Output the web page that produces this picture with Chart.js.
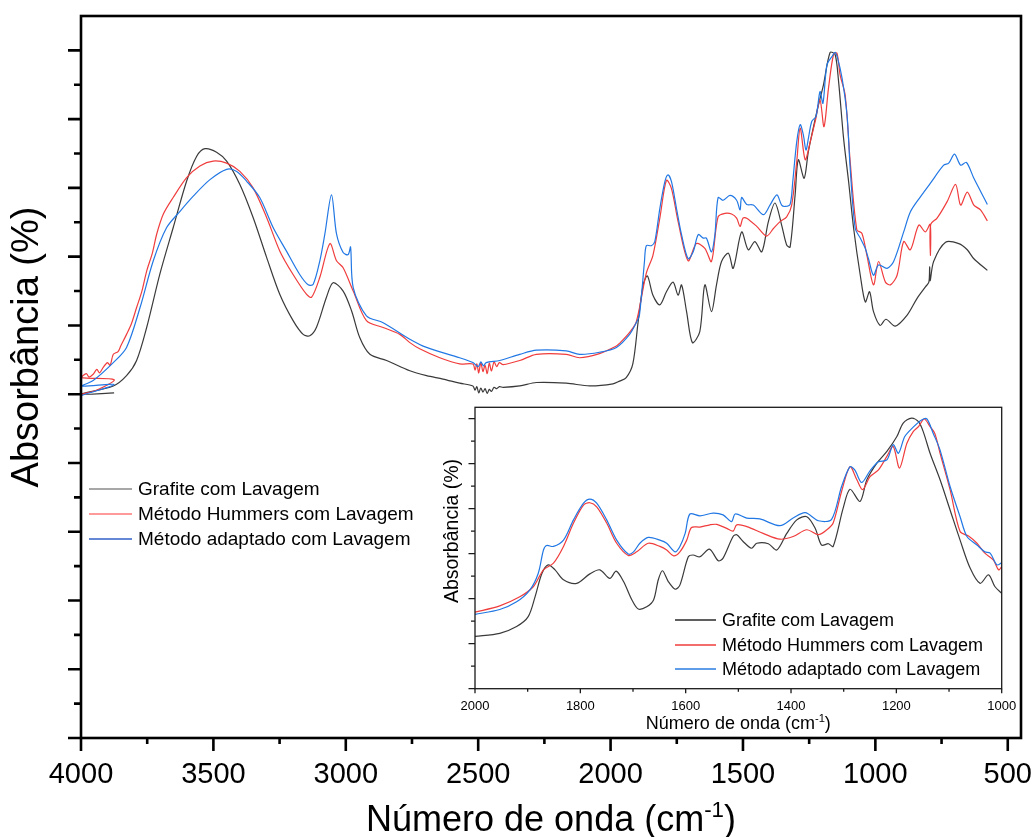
<!DOCTYPE html>
<html>
<head>
<meta charset="utf-8">
<title>FTIR – Absorbância</title>
<script src="https://cdn.jsdelivr.net/npm/chart.js@4.4.1/dist/chart.umd.min.js"></script>
<style>
  html, body { margin: 0; padding: 0; background: #fff; overflow: hidden; }
  #wrap { position: relative; width: 1035px; height: 837px; }
  canvas { position: absolute; }
</style>
</head>
<body>
<div id="wrap">
  <canvas id="main" width="1035" height="837" style="left:0;top:0"></canvas>
  <canvas id="inset" width="600" height="345" style="left:430px;top:395px"></canvas>
</div>
<script>
// ---------- series labels ----------
const seriesLabels = ['Grafite com Lavagem', 'Método Hummers com Lavagem', 'Método adaptado com Lavagem'];

// ---------- full spectra, [wavenumber (cm-1), absorbance] ----------
const grafite = [
  [3875,5.02],[4000,5.00],[3878,5.12],[3828,5.27],[3790,5.49],[3752,5.97],[3702,6.75],[3652,7.42],
  [3601,8.10],[3563,8.46],[3532,8.57],[3488,8.52],[3450,8.39],[3400,8.05],[3350,7.57],[3299,6.99],
  [3249,6.45],[3199,6.07],[3161,5.87],[3136,5.85],[3111,5.97],[3073,6.41],[3048,6.62],[3010,6.50],
  [2978,6.21],[2947,5.82],[2909,5.58],[2846,5.49],[2758,5.34],[2695,5.27],[2633,5.22],[2570,5.16],
  [2520,5.12],[2512,5.06],[2505,5.11],[2498,5.02],[2490,5.09],[2482,5.03],[2474,5.08],[2466,5.01],
  [2458,5.07],[2450,5.04],[2440,5.10],[2430,5.08],[2420,5.11],[2406,5.10],[2343,5.12],[2280,5.17],
  [2167,5.16],[2079,5.12],[1991,5.15],[1966,5.19],[1941,5.24],[1916,5.44],[1896,6.05],[1877,6.59],
  [1861,6.72],[1840,6.44],[1814,6.30],[1789,6.49],[1764,6.63],[1745,6.44],[1732,6.59],[1713,6.20],
  [1691,5.75],[1663,5.91],[1644,6.59],[1619,6.20],[1600,6.59],[1581,6.93],[1555,7.05],[1537,6.83],
  [1505,7.36],[1480,7.10],[1455,7.22],[1429,7.07],[1404,7.51],[1379,7.78],[1354,7.46],[1335,7.17],
  [1322,7.14],[1303,7.90],[1291,8.41],[1269,8.14],[1253,8.53],[1221,9.11],[1196,9.50],[1171,9.97],
  [1152,9.94],[1139,9.55],[1120,8.72],[1101,8.09],[1082,7.41],[1057,6.73],[1038,6.34],[1022,6.49],
  [1007,6.20],[982,6.00],[960,6.09],[925,5.99],[880,6.15],[843,6.39],[811,6.56],[798,6.63],
  [795,6.85],[793,6.65],[780,6.93],[735,7.21],[685,7.19],[653,7.10],[628,6.97],[577,6.80]
];
const hummers = [
  [4000,5.00],[3940,5.06],[3875,5.21],[4000,5.24],[3980,5.30],[3970,5.25],[3954,5.29],[3940,5.36],
  [3930,5.31],[3916,5.39],[3900,5.46],[3890,5.42],[3878,5.58],[3860,5.62],[3850,5.70],[3828,5.87],
  [3810,6.02],[3790,6.26],[3770,6.50],[3752,6.79],[3730,7.06],[3714,7.33],[3689,7.62],[3652,7.86],
  [3601,8.15],[3551,8.32],[3501,8.39],[3450,8.36],[3400,8.24],[3350,8.00],[3299,7.57],[3249,7.08],
  [3199,6.74],[3148,6.45],[3129,6.41],[3098,6.70],[3060,7.19],[3035,6.94],[3010,6.84],[2972,6.50],
  [2922,6.07],[2859,5.97],[2796,5.87],[2758,5.75],[2721,5.66],[2645,5.53],[2570,5.44],[2520,5.44],
  [2512,5.35],[2505,5.44],[2498,5.31],[2490,5.46],[2482,5.33],[2474,5.42],[2466,5.30],[2458,5.45],
  [2450,5.34],[2440,5.47],[2430,5.40],[2420,5.46],[2406,5.43],[2343,5.49],[2280,5.58],[2167,5.58],
  [2117,5.53],[2042,5.59],[1978,5.70],[1966,5.74],[1928,5.90],[1903,6.05],[1865,6.76],[1840,7.02],
  [1814,7.56],[1789,8.11],[1770,7.99],[1745,7.51],[1707,6.94],[1676,7.19],[1644,7.12],[1619,6.93],
  [1594,7.58],[1568,7.63],[1543,7.62],[1524,7.56],[1511,7.44],[1500,7.56],[1486,7.56],[1448,7.44],
  [1411,7.30],[1385,7.41],[1360,7.51],[1335,7.58],[1316,7.75],[1297,8.38],[1284,8.87],[1265,8.41],
  [1246,8.67],[1227,8.97],[1209,9.28],[1194,8.89],[1177,9.45],[1158,9.94],[1145,9.96],[1133,9.64],
  [1114,9.35],[1095,8.38],[1070,7.39],[1051,7.34],[1032,7.02],[1007,6.59],[988,6.93],[962,6.63],
  [943,6.59],[918,6.73],[893,7.22],[868,7.10],[836,7.46],[811,7.36],[793,7.47],[792,7.02],
  [791,7.47],[767,7.56],[729,7.80],[697,8.05],[678,7.75],[653,7.94],[628,7.75],[603,7.68],[577,7.52]
];
const adaptado = [
  [4000,4.98],[3875,5.14],[4000,5.12],[3954,5.20],[3878,5.46],[3828,5.68],[3777,6.26],[3727,6.94],
  [3677,7.42],[3626,7.66],[3576,7.88],[3513,8.12],[3450,8.27],[3412,8.24],[3375,8.10],[3325,7.86],
  [3274,7.42],[3224,7.08],[3174,6.74],[3142,6.59],[3123,6.60],[3098,6.94],[3079,7.33],[3054,7.90],
  [3035,7.33],[3010,7.06],[2991,7.03],[2982,7.14],[2972,6.55],[2922,6.14],[2859,6.04],[2758,5.80],
  [2695,5.68],[2570,5.53],[2520,5.46],[2500,5.40],[2490,5.47],[2480,5.41],[2470,5.46],[2419,5.49],
  [2343,5.58],[2280,5.64],[2167,5.63],[2117,5.58],[2042,5.61],[1978,5.68],[1928,5.87],[1903,6.04],
  [1891,6.15],[1872,6.93],[1865,7.16],[1846,7.16],[1833,7.22],[1814,7.70],[1795,8.09],[1783,8.19],
  [1770,8.09],[1751,7.70],[1732,7.32],[1707,6.97],[1688,7.07],[1669,7.32],[1650,7.27],[1638,7.27],
  [1619,7.07],[1606,7.32],[1594,7.86],[1575,7.82],[1549,7.89],[1524,7.82],[1511,7.68],[1505,7.86],
  [1486,7.76],[1461,7.75],[1423,7.61],[1398,7.75],[1372,7.90],[1354,7.75],[1341,7.73],[1322,7.76],
  [1312,8.09],[1297,8.67],[1284,8.92],[1272,8.77],[1262,8.55],[1253,8.72],[1240,8.97],[1224,9.04],
  [1209,9.40],[1198,9.23],[1183,9.79],[1164,9.91],[1152,9.97],[1143,9.89],[1126,9.60],[1107,9.06],
  [1095,8.28],[1076,7.41],[1057,7.27],[1038,7.12],[1026,6.97],[1007,6.73],[988,6.88],[956,6.83],
  [931,6.93],[893,7.36],[868,7.65],[830,7.87],[792,8.07],[742,8.33],[723,8.36],[701,8.49],
  [678,8.33],[656,8.37],[628,8.14],[577,7.76]
];

// ---------- detail 2000–1000 cm-1 ----------
const grafiteDetalhe = [
  [2000,1.16],[1953,1.23],[1921,1.38],[1899,1.60],[1886,2.04],[1873,2.56],[1861,2.75],[1848,2.64],
  [1832,2.42],[1807,2.34],[1782,2.55],[1763,2.64],[1744,2.45],[1732,2.61],[1718,2.38],[1702,1.97],
  [1690,1.77],[1674,1.82],[1661,1.97],[1652,2.42],[1644,2.62],[1633,2.38],[1620,2.21],[1611,2.30],
  [1595,2.93],[1586,2.97],[1573,2.93],[1555,3.10],[1538,2.84],[1529,2.90],[1510,3.38],[1503,3.42],
  [1491,3.27],[1475,3.12],[1465,3.23],[1443,3.22],[1427,3.08],[1408,3.45],[1389,3.75],[1370,3.82],
  [1354,3.56],[1342,3.19],[1329,3.22],[1320,3.16],[1301,4.01],[1288,4.43],[1269,4.16],[1256,4.64],
  [1237,5.01],[1218,5.27],[1199,5.60],[1187,5.90],[1171,6.01],[1158,5.93],[1149,5.71],[1136,5.23],
  [1117,4.64],[1098,3.97],[1079,3.30],[1060,2.68],[1041,2.34],[1025,2.53],[1013,2.27],[1000,2.12]
];
const hummersDetalhe = [
  [2000,1.70],[1953,1.84],[1915,2.04],[1889,2.27],[1870,2.64],[1851,2.79],[1832,3.16],[1813,3.68],
  [1794,4.08],[1782,4.13],[1769,4.04],[1750,3.68],[1731,3.23],[1709,2.96],[1693,3.04],[1671,3.23],
  [1649,3.16],[1636,3.08],[1623,2.95],[1611,3.04],[1598,3.30],[1589,3.58],[1573,3.59],[1554,3.64],
  [1541,3.65],[1522,3.56],[1510,3.50],[1503,3.64],[1484,3.60],[1453,3.45],[1421,3.32],[1396,3.38],
  [1370,3.53],[1348,3.42],[1332,3.53],[1320,3.68],[1304,4.38],[1288,4.93],[1275,4.64],[1264,4.42],
  [1250,4.71],[1234,4.86],[1218,5.16],[1206,5.38],[1194,4.90],[1180,5.45],[1168,5.71],[1158,5.82],
  [1147,5.99],[1136,5.82],[1127,5.67],[1117,5.23],[1098,4.42],[1079,3.49],[1063,3.39],[1047,3.23],
  [1032,3.01],[1016,2.86],[1006,2.64],[1000,2.71]
];
const adaptadoDetalhe = [
  [2000,1.65],[1953,1.76],[1921,1.93],[1896,2.19],[1880,2.56],[1870,3.08],[1864,3.18],[1851,3.16],
  [1832,3.30],[1813,3.75],[1794,4.12],[1782,4.21],[1769,4.12],[1750,3.75],[1731,3.30],[1709,2.99],
  [1699,3.04],[1687,3.23],[1671,3.36],[1649,3.30],[1636,3.23],[1620,3.04],[1611,3.16],[1601,3.45],
  [1592,3.88],[1573,3.84],[1548,3.90],[1529,3.86],[1513,3.71],[1506,3.88],[1484,3.79],[1459,3.77],
  [1421,3.62],[1396,3.79],[1373,3.91],[1348,3.73],[1323,3.76],[1304,4.49],[1288,4.93],[1279,4.86],
  [1266,4.58],[1250,4.84],[1234,5.04],[1218,5.08],[1206,5.42],[1196,5.23],[1184,5.60],[1168,5.81],
  [1152,5.97],[1142,5.99],[1130,5.67],[1117,5.30],[1098,4.49],[1079,3.82],[1066,3.38],[1047,3.19],
  [1032,3.04],[1022,3.01],[1009,2.75],[1000,2.80]
];

// ---------- axis ticks ----------
const mainXTicks = [4000, 3500, 3000, 2500, 2000, 1500, 1000, 500];
const mainXMinor = [3750, 3250, 2750, 2250, 1750, 1250, 750];
const mainYMajor = [0, 1, 2, 3, 4, 5, 6, 7, 8, 9, 10];
const mainYMinor = [0.5, 1.5, 2.5, 3.5, 4.5, 5.5, 6.5, 7.5, 8.5, 9.5];
const insetXTicks = [2000, 1800, 1600, 1400, 1200, 1000];
const insetXMinor = [1900, 1700, 1500, 1300, 1100];
const insetYMajor = [0, 1, 2, 3, 4, 5, 6];
const insetYMinor = [0.5, 1.5, 2.5, 3.5, 4.5, 5.5];

// ---------- styling ----------
const FONT = '"Liberation Sans", Arial, Helvetica, sans-serif';
const lineColors = ['#3a3a3a', '#f03c3c', '#2177e4'];
const mainLegendColors = ['#8a8a8a', '#ff7878', '#3060c8'];
const insetLegendColors = ['#2a2a2a', '#f03c3c', '#2a7de1'];

const toXY = pts => pts.map(p => ({ x: p[0], y: p[1] }));

function makeDatasets(seriesList) {
  return seriesList.map((pts, i) => ({
    label: seriesLabels[i],
    data: toXY(pts),
    borderColor: lineColors[i],
    borderWidth: 1.2,
    pointRadius: 0,
    fill: false,
    tension: 0.3,
    order: 3 - i
  }));
}

// text with "(cm-1)" superscript, centred at cx
function drawWaveTitle(ctx, cx, baseline, size) {
  const head = 'Número de onda (cm', sup = '-1', tail = ')';
  const supSize = size * 0.62;
  ctx.font = `${size}px ${FONT}`;
  const w1 = ctx.measureText(head).width;
  const w3 = ctx.measureText(tail).width;
  ctx.font = `${supSize}px ${FONT}`;
  const w2 = ctx.measureText(sup).width;
  let x0 = cx - (w1 + w2 + w3) / 2;
  ctx.textAlign = 'left';
  ctx.textBaseline = 'alphabetic';
  ctx.font = `${size}px ${FONT}`;
  ctx.fillText(head, x0, baseline);
  ctx.font = `${supSize}px ${FONT}`;
  ctx.fillText(sup, x0 + w1, baseline - size * 0.4);
  ctx.font = `${size}px ${FONT}`;
  ctx.fillText(tail, x0 + w1 + w2, baseline);
}

function drawVerticalTitle(ctx, text, cx, cy, size) {
  ctx.save();
  ctx.translate(cx, cy);
  ctx.rotate(-Math.PI / 2);
  ctx.font = `${size}px ${FONT}`;
  ctx.textAlign = 'center';
  ctx.textBaseline = 'middle';
  ctx.fillText(text, 0, 0);
  ctx.restore();
}

function drawLegend(ctx, colors, x0, x1, xt, rows, size) {
  ctx.font = `${size}px ${FONT}`;
  ctx.textAlign = 'left';
  ctx.textBaseline = 'middle';
  seriesLabels.forEach((lab, i) => {
    ctx.strokeStyle = colors[i];
    ctx.lineWidth = 1.3;
    ctx.beginPath();
    ctx.moveTo(x0, rows[i]);
    ctx.lineTo(x1, rows[i]);
    ctx.stroke();
    ctx.fillStyle = '#000';
    ctx.fillText(lab, xt, rows[i] + 1);
  });
}

// frame, tick marks, titles and legend of the full spectrum
const mainDecor = {
  id: 'mainDecor',
  afterDraw(chart) {
    const { ctx, chartArea: a, scales: { x, y } } = chart;
    ctx.save();
    ctx.strokeStyle = '#000';
    ctx.lineWidth = 2.6;
    ctx.lineCap = 'butt';
    ctx.beginPath();
    mainXTicks.forEach(v => { const p = x.getPixelForValue(v); ctx.moveTo(p, a.bottom); ctx.lineTo(p, a.bottom + 13); });
    mainXMinor.forEach(v => { const p = x.getPixelForValue(v); ctx.moveTo(p, a.bottom); ctx.lineTo(p, a.bottom + 6); });
    mainYMajor.forEach(v => { const p = y.getPixelForValue(v); ctx.moveTo(a.left, p); ctx.lineTo(a.left - 13, p); });
    mainYMinor.forEach(v => { const p = y.getPixelForValue(v); ctx.moveTo(a.left, p); ctx.lineTo(a.left - 7, p); });
    ctx.stroke();
    ctx.strokeRect(a.left, a.top, a.right - a.left, a.bottom - a.top);

    ctx.fillStyle = '#000';
    drawWaveTitle(ctx, (a.left + a.right) / 2, 831, 36);
    drawVerticalTitle(ctx, 'Absorbância (%)', 28, 347, 38);
    drawLegend(ctx, mainLegendColors, 89, 132, 138, [489, 514, 539], 19);
    ctx.restore();
  }
};

// frame, tick marks, titles and legend of the 2000–1000 detail
const insetDecor = {
  id: 'insetDecor',
  afterDraw(chart) {
    const { ctx, chartArea: a, scales: { x, y } } = chart;
    ctx.save();
    ctx.strokeStyle = '#1a1a1a';
    ctx.lineWidth = 1.3;
    ctx.beginPath();
    insetXTicks.forEach(v => { const p = x.getPixelForValue(v); ctx.moveTo(p, a.bottom); ctx.lineTo(p, a.bottom + 4.5); });
    insetXMinor.forEach(v => { const p = x.getPixelForValue(v); ctx.moveTo(p, a.bottom); ctx.lineTo(p, a.bottom + 3); });
    insetYMajor.forEach(v => { const p = y.getPixelForValue(v); ctx.moveTo(a.left, p); ctx.lineTo(a.left - 6.5, p); });
    insetYMinor.forEach(v => { const p = y.getPixelForValue(v); ctx.moveTo(a.left, p); ctx.lineTo(a.left - 4, p); });
    ctx.stroke();
    ctx.strokeRect(a.left, a.top, a.right - a.left, a.bottom - a.top);

    ctx.fillStyle = '#000';
    drawWaveTitle(ctx, (a.left + a.right) / 2, 334, 18);
    drawVerticalTitle(ctx, 'Absorbância (%)', 22.5, 136, 19.5);
    drawLegend(ctx, insetLegendColors, 245, 286, 292, [225, 250, 274], 18);
    ctx.restore();
  }
};

// keep the plot frame exactly where the layout padding puts it
const noEdgePadding = s => { s.paddingLeft = 0; s.paddingRight = 0; s.paddingTop = 0; s.paddingBottom = 0; };

Chart.defaults.font.family = FONT;
Chart.defaults.color = '#000';

new Chart(document.getElementById('main'), {
  type: 'line',
  data: { datasets: makeDatasets([grafite, hummers, adaptado]) },
  options: {
    responsive: false,
    animation: false,
    devicePixelRatio: 1,
    events: [],
    layout: { padding: { top: 16, right: 14, left: 0, bottom: 0 } },
    plugins: { legend: { display: false }, tooltip: { enabled: false } },
    scales: {
      x: {
        type: 'linear',
        reverse: true,
        min: 450,
        max: 4000,
        afterBuildTicks: s => { s.ticks = mainXTicks.map(v => ({ value: v })); },
        afterFit: s => { s.height = 99; noEdgePadding(s); },
        grid: { display: false, drawTicks: false },
        border: { display: false },
        ticks: { font: { size: 29 }, color: '#000', padding: 20, maxRotation: 0, autoSkip: false,
                 callback: v => String(v) }
      },
      y: {
        type: 'linear',
        min: 0,
        max: 10.5,
        afterFit: s => { s.width = 81; noEdgePadding(s); },
        grid: { display: false, drawTicks: false },
        border: { display: false },
        ticks: { display: false }
      }
    }
  },
  plugins: [mainDecor]
});

new Chart(document.getElementById('inset'), {
  type: 'line',
  data: { datasets: makeDatasets([grafiteDetalhe, hummersDetalhe, adaptadoDetalhe]) },
  options: {
    responsive: false,
    animation: false,
    devicePixelRatio: 1,
    events: [],
    layout: { padding: { top: 12.3, right: 28.3, left: 0, bottom: 0 } },
    plugins: { legend: { display: false }, tooltip: { enabled: false } },
    scales: {
      x: {
        type: 'linear',
        reverse: true,
        min: 1000,
        max: 2000,
        afterBuildTicks: s => { s.ticks = insetXTicks.map(v => ({ value: v })); },
        afterFit: s => { s.height = 51.3; noEdgePadding(s); },
        grid: { display: false, drawTicks: false },
        border: { display: false },
        ticks: { font: { size: 13 }, color: '#000', padding: 10, maxRotation: 0, autoSkip: false,
                 callback: v => String(v) }
      },
      y: {
        type: 'linear',
        min: 0,
        max: 6.25,
        afterFit: s => { s.width = 45; noEdgePadding(s); },
        grid: { display: false, drawTicks: false },
        border: { display: false },
        ticks: { display: false }
      }
    }
  },
  plugins: [insetDecor]
});
</script>
</body>
</html>
